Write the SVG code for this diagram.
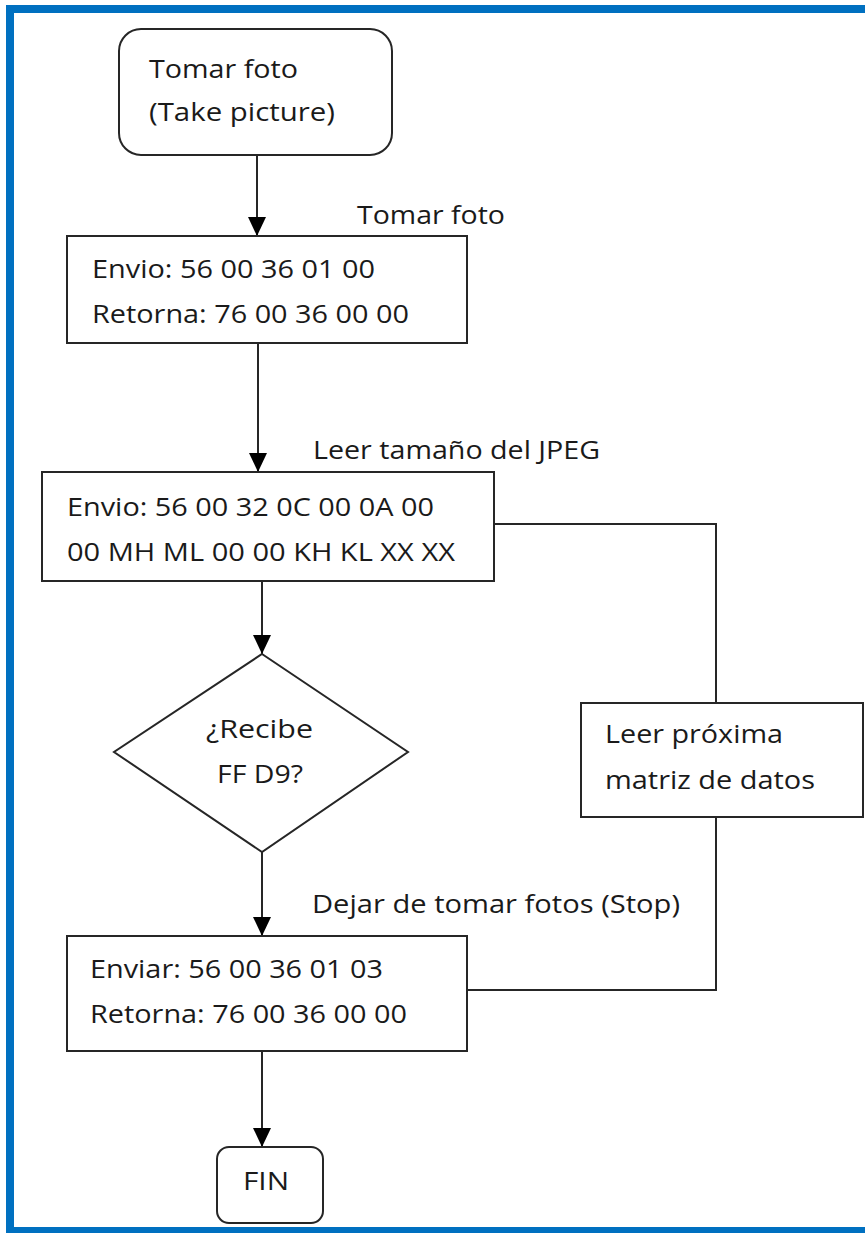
<svg xmlns="http://www.w3.org/2000/svg" width="865" height="1233" viewBox="0 0 865 1233">
<style>
  .box { fill: #ffffff; stroke: #262626; stroke-width: 2; }
  .conn { fill: none; stroke: #262626; stroke-width: 2; }
  text { font-family: "Open Sans", "Noto Sans", "Liberation Sans", sans-serif; font-size: 26px; fill: #1a1a1a; }
</style>
<defs>
  <marker id="arr" markerUnits="userSpaceOnUse" markerWidth="19" markerHeight="18" viewBox="0 0 19 18" refX="19" refY="9" orient="auto">
    <path d="M0,0 L19,9 L0,18 z" fill="#000000"/>
  </marker>
</defs>
<rect width="865" height="1233" fill="#ffffff"/>
<g id="frame" fill="#0070C0">
  <rect x="6" y="5" width="859" height="8"/>
  <rect x="6" y="5" width="8" height="1228"/>
  <rect x="6" y="1227" width="859" height="6"/>
</g>
<g id="connectors">
  <path class="conn" d="M257,155 V236" marker-end="url(#arr)"/>
  <path class="conn" d="M258,343 V472" marker-end="url(#arr)" stroke="#555555"/>
  <path class="conn" d="M262,581 V654" marker-end="url(#arr)"/>
  <path class="conn" d="M262,852 V936" marker-end="url(#arr)"/>
  <path class="conn" d="M262,1051 V1147" marker-end="url(#arr)"/>
  <path class="conn" d="M494,524 H716 V703"/>
  <path class="conn" d="M716,817 V990 H467"/>
  <text x="357" y="224" textLength="148" lengthAdjust="spacingAndGlyphs">Tomar foto</text>
  <text x="313" y="459" textLength="287" lengthAdjust="spacingAndGlyphs">Leer tamaño del JPEG</text>
  <text x="312" y="913" textLength="368" lengthAdjust="spacingAndGlyphs">Dejar de tomar fotos (Stop)</text>
</g>
<g id="start">
  <rect class="box" x="119" y="29" width="273" height="126" rx="22" ry="22"/>
  <text x="149" y="78" textLength="149" lengthAdjust="spacingAndGlyphs">Tomar foto</text>
  <text x="149" y="121" textLength="186" lengthAdjust="spacingAndGlyphs">(Take picture)</text>
</g>
<g id="tomar">
  <rect class="box" x="67" y="236" width="400" height="107"/>
  <text x="92" y="278" textLength="283" lengthAdjust="spacingAndGlyphs">Envio: 56 00 36 01 00</text>
  <text x="92" y="323" textLength="317" lengthAdjust="spacingAndGlyphs">Retorna: 76 00 36 00 00</text>
</g>
<g id="leer">
  <rect class="box" x="42" y="472" width="452" height="109"/>
  <text x="67" y="516" textLength="367" lengthAdjust="spacingAndGlyphs">Envio: 56 00 32 0C 00 0A 00</text>
  <text x="67" y="561" textLength="388" lengthAdjust="spacingAndGlyphs">00 MH ML 00 00 KH KL XX XX</text>
</g>
<g id="decision">
  <polygon class="box" points="262,654 408,752 262,852 114,752"/>
  <text x="206" y="738" textLength="107" lengthAdjust="spacingAndGlyphs">¿Recibe</text>
  <text x="217" y="783" textLength="86" lengthAdjust="spacingAndGlyphs">FF D9?</text>
</g>
<g id="proxima">
  <rect class="box" x="581" y="703" width="282" height="114"/>
  <text x="605" y="743" textLength="178" lengthAdjust="spacingAndGlyphs">Leer próxima</text>
  <text x="605" y="789" textLength="210" lengthAdjust="spacingAndGlyphs">matriz de datos</text>
</g>
<g id="stop">
  <rect class="box" x="67" y="936" width="400" height="115"/>
  <text x="90" y="978" textLength="293" lengthAdjust="spacingAndGlyphs">Enviar: 56 00 36 01 03</text>
  <text x="90" y="1023" textLength="317" lengthAdjust="spacingAndGlyphs">Retorna: 76 00 36 00 00</text>
</g>
<g id="fin">
  <rect class="box" x="217" y="1147" width="106" height="76" rx="12" ry="12"/>
  <text x="243" y="1190" textLength="46" lengthAdjust="spacingAndGlyphs">FIN</text>
</g>
</svg>
